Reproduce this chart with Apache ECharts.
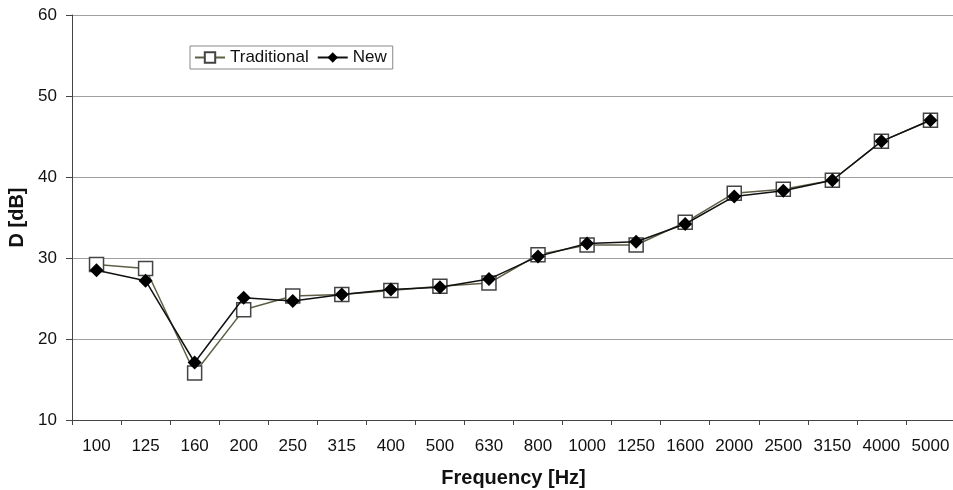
<!DOCTYPE html>
<html>
<head>
<meta charset="utf-8">
<script src="https://cdn.jsdelivr.net/npm/echarts@6/dist/echarts.min.js"></script>
<style>
  html, body { margin: 0; padding: 0; background: #fff; }
  #chart { width: 953px; height: 490px; }
</style>
</head>
<body>
<div id="chart"></div>
<script>
// Third-octave band centre frequencies
const frequencies = ['100', '125', '160', '200', '250', '315', '400', '500', '630',
  '800', '1000', '1250', '1600', '2000', '2500', '3150', '4000', '5000'];

// Level difference D [dB] per band
const traditional = [29.2, 28.7, 15.8, 23.6, 25.3, 25.5, 26.0, 26.5, 26.9,
  30.4, 31.6, 31.6, 34.4, 38.0, 38.5, 39.6, 44.4, 47.0];
const newDesign = [28.5, 27.2, 17.1, 25.1, 24.7, 25.5, 26.1, 26.4, 27.4,
  30.2, 31.8, 32.0, 34.2, 37.6, 38.3, 39.6, 44.4, 47.0];

const yTicks = { min: 10, max: 60, step: 10 };

const font = '"Liberation Sans", Arial, sans-serif';
const ink = '#111';
const chart = echarts.init(document.getElementById('chart'), null, { renderer: 'canvas' });

chart.setOption({
  backgroundColor: '#fff',
  animation: false,
  textStyle: { fontFamily: font },
  grid: { left: 72, right: -2, top: 15, bottom: 70, containLabel: false, outerBoundsMode: 'none' },
  legend: {
    left: 190, top: 46,
    orient: 'horizontal',
    borderColor: '#888', borderWidth: 1,
    padding: [3, 6, 3, 4],
    itemWidth: 30, itemHeight: 13, itemGap: 8,
    textStyle: { fontSize: 17, color: ink, fontFamily: font },
    data: ['Traditional', 'New']
  },
  xAxis: {
    type: 'category',
    data: frequencies,
    boundaryGap: true,
    name: 'Frequency [Hz]',
    nameLocation: 'middle',
    nameGap: 48,
    nameTextStyle: { fontSize: 20, fontWeight: 'bold', color: ink, fontFamily: font },
    axisLine: { lineStyle: { color: '#444', width: 1 } },
    axisTick: { show: true, length: 5, alignWithLabel: false, lineStyle: { color: '#444' } },
    axisLabel: { fontSize: 17, color: ink, margin: 18, interval: 0, fontFamily: font },
    splitLine: { show: false }
  },
  yAxis: {
    type: 'value',
    min: yTicks.min, max: yTicks.max, interval: yTicks.step,
    name: 'D [dB]',
    nameLocation: 'middle',
    nameGap: 42,
    nameTextStyle: { fontSize: 20, fontWeight: 'bold', color: ink, fontFamily: font },
    axisLine: { show: true, lineStyle: { color: '#444', width: 1 } },
    axisTick: { show: true, length: 6, lineStyle: { color: '#444' } },
    axisLabel: { fontSize: 17, color: ink, margin: 15, fontFamily: font },
    splitLine: { show: true, lineStyle: { color: '#a0a0a0', width: 1 } }
  },
  series: [
    {
      name: 'Traditional',
      type: 'line',
      data: traditional,
      symbol: 'rect',
      symbolSize: 14,
      showAllSymbol: true,
      lineStyle: { color: '#5f5e45', width: 1.5 },
      itemStyle: { color: '#fff', borderColor: '#444', borderWidth: 1.5 },
      z: 2
    },
    {
      name: 'New',
      type: 'line',
      data: newDesign,
      symbol: 'diamond',
      symbolSize: 14,
      showAllSymbol: true,
      lineStyle: { color: '#111', width: 1.5 },
      itemStyle: { color: '#000', borderColor: '#000', borderWidth: 0 },
      z: 3
    }
  ]
});
</script>
</body>
</html>
